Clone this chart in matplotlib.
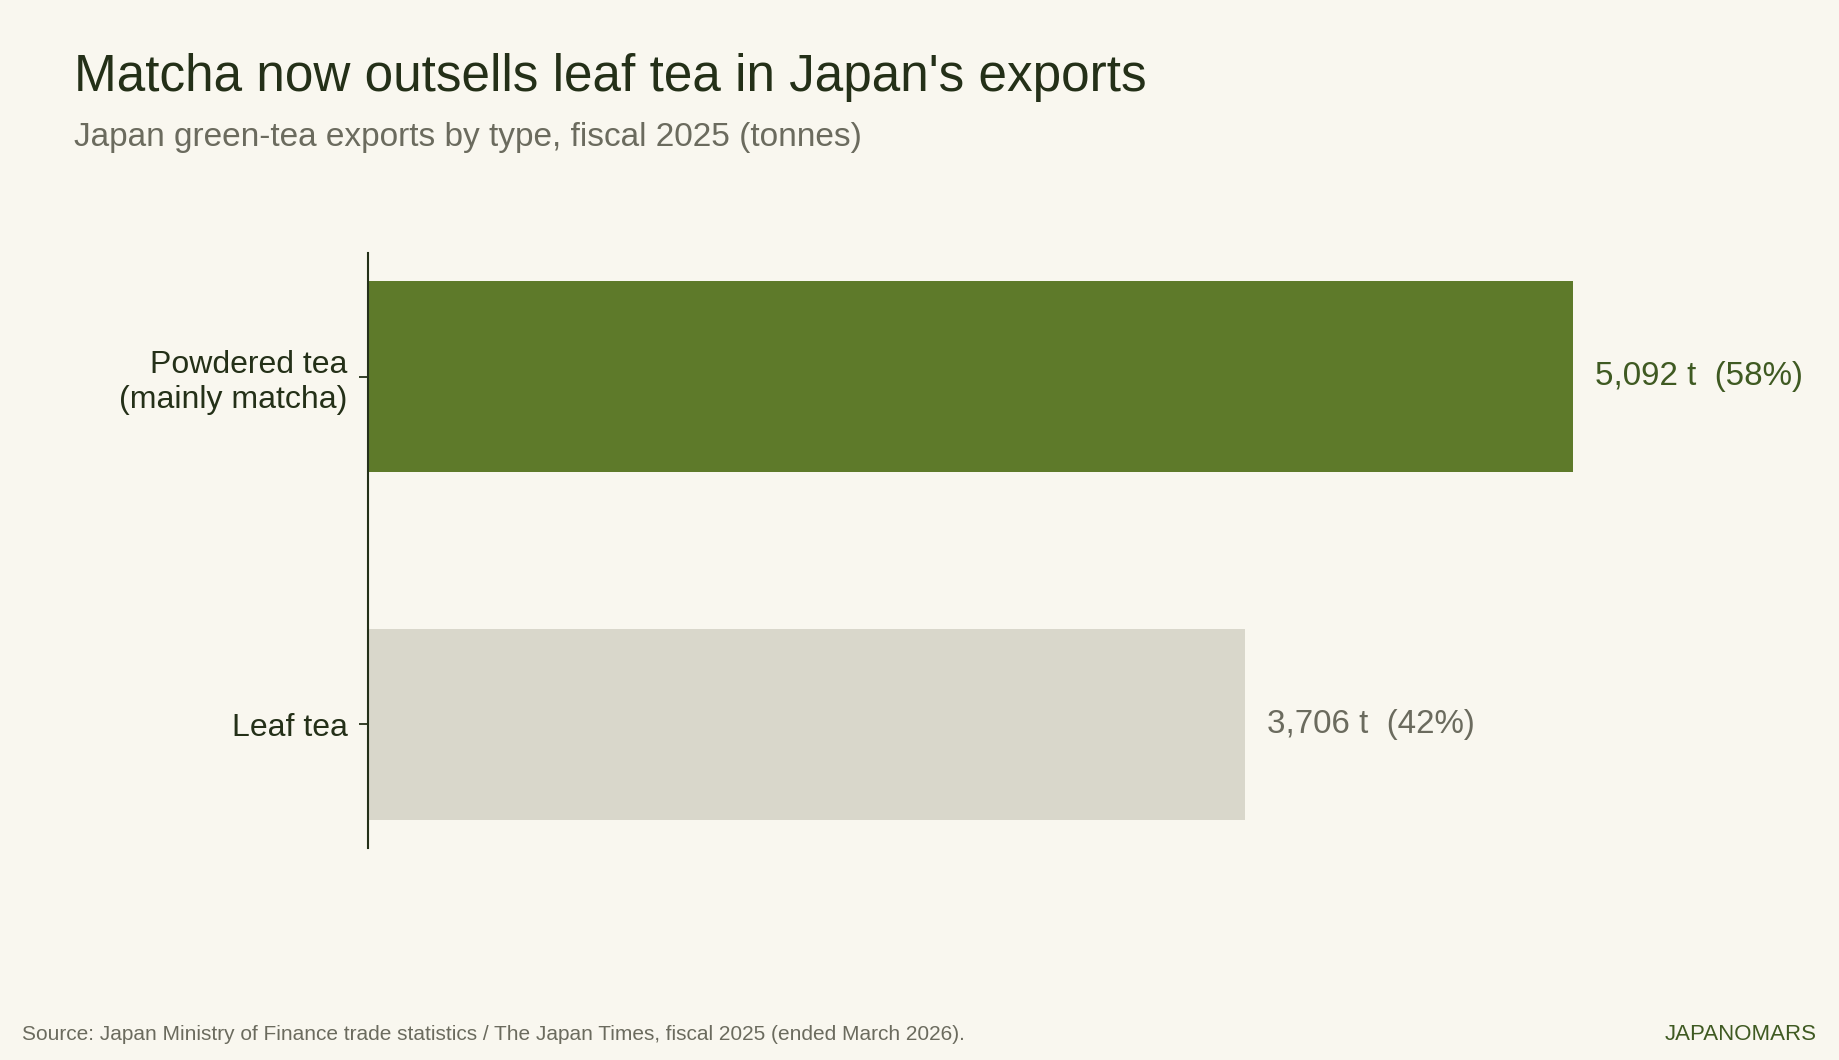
import matplotlib
matplotlib.use("Agg")
import matplotlib.pyplot as plt

plt.rcParams['font.family'] = ['Liberation Sans', 'DejaVu Sans']

# data
categories = ["Leaf tea", "Powdered tea\n(mainly matcha)"]
tonnes = [3706, 5092]
shares = [42, 58]
bar_colors = ["#d9d7cb", "#5e7a2a"]
label_colors = ["#6b6b5e", "#3f5a22"]

bg = "#f9f7ef"
dark = "#243018"

fig = plt.figure(figsize=(18.39, 10.6), dpi=100, facecolor=bg)
ax = fig.add_axes([368 / 1839, 1 - 848 / 1060, (1800 - 368) / 1839, (848 - 253) / 1060])
ax.set_facecolor(bg)

ypos = list(range(len(categories)))
ax.barh(ypos, tonnes, height=0.55, color=bar_colors)

for y, v, s, c in zip(ypos, tonnes, shares, label_colors):
    ax.annotate(f"{v:,} t  ({s}%)", xy=(v, y), xytext=(16, 0), textcoords="offset points",
                va="center", ha="left", fontsize=23.9, color=c)

ax.set_yticks(ypos)
ax.set_yticklabels(categories, fontsize=23, color=dark)
ax.tick_params(axis="y", length=6.5, width=1.3, color=dark, pad=8)
ax.set_xticks([])
ax.set_xlim(0, 6050)
ax.set_ylim(-0.355, 1.355)
for side in ["top", "right", "bottom"]:
    ax.spines[side].set_visible(False)
ax.spines["left"].set_color(dark)
ax.spines["left"].set_linewidth(1.5)

fig.text(74 / 1839, 1 - 91 / 1060, "Matcha now outsells leaf tea in Japan's exports",
         fontsize=36.9, color=dark, ha="left", va="baseline")
fig.text(74 / 1839, 1 - 146 / 1060, "Japan green-tea exports by type, fiscal 2025 (tonnes)",
         fontsize=24, color="#6b6b5e", ha="left", va="baseline")
fig.text(22 / 1839, 1 - 1040 / 1060,
         "Source: Japan Ministry of Finance trade statistics / The Japan Times, fiscal 2025 (ended March 2026).",
         fontsize=15, color="#6b6b5e", ha="left", va="baseline")
fig.text(1817 / 1839, 1 - 1040 / 1060, "JAPANOMARS", fontsize=16, color="#3f5a22",
         ha="right", va="baseline")

fig.savefig("out.png", dpi=100, facecolor=bg)
